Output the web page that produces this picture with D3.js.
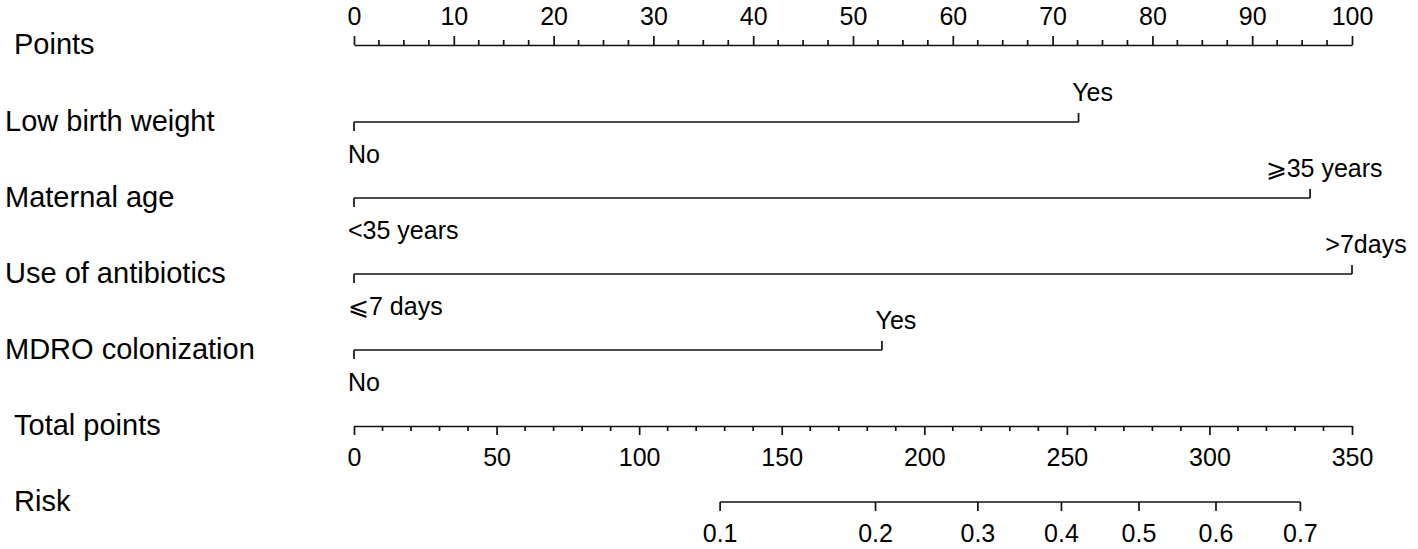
<!DOCTYPE html>
<html>
<head>
<meta charset="utf-8">
<script src="https://cdn.jsdelivr.net/npm/d3@7"></script>
<style>
  body { margin: 0; background: #fff; }
  svg text { font-family: "Liberation Sans", Arial, sans-serif; fill: #000; }
  .axis path, .axis line, .row line { stroke: #111; stroke-width: 1.7; }
  .axis text { font-size: 25px; }
  .name { font-size: 29px; }
  .level { font-size: 25px; }
</style>
</head>
<body>
<svg width="1418" height="549"></svg>
<script>
// nomogram data
const pointTicks = [0, 10, 20, 30, 40, 50, 60, 70, 80, 90, 100];
const totalTicks = [0, 50, 100, 150, 200, 250, 300, 350];
const variables = ["Low birth weight", "Maternal age", "Use of antibiotics", "MDRO colonization"];
const lowLevels = ["No", "<35 years", "\u2A7D7 days", "No"];
const highLevels = ["Yes", "\u2A7E35 years", ">7days", "Yes"];
const highPoints = [72.6, 95.8, 100, 52.9];
const riskTicks = [0.1, 0.2, 0.3, 0.4, 0.5, 0.6, 0.7];
const riskTotal = [128.4, 182.9, 218.8, 248.1, 275.3, 302.3, 331.9];

const svg = d3.select("svg");

const x = d3.scaleLinear().domain([0, 100]).range([354, 1352]);
const xTotal = d3.scaleLinear().domain([0, 350]).range([354, 1352]);

const rowY = d3.scalePoint().domain(variables).range([122, 350]);
const pointsY = 45, totalY = 426, riskY = 502;

// Points axis
svg.append("g")
    .attr("class", "axis")
    .attr("transform", "translate(0," + pointsY + ")")
    .call(d3.axisTop(x).tickValues(pointTicks).tickSize(9).tickSizeOuter(0).tickPadding(11));

svg.append("g")
    .attr("class", "axis")
    .selectAll("line")
    .data(d3.range(0, 100, 2.5).filter(function(d) { return d % 10 !== 0; }))
    .enter().append("line")
      .attr("x1", function(d) { return x(d); })
      .attr("x2", function(d) { return x(d); })
      .attr("y1", pointsY)
      .attr("y2", pointsY - 5);

// Left hand labels
const names = [{t: "Points", y: pointsY, dx: 14}]
  .concat(variables.map(function(v) { return {t: v, y: rowY(v), dx: 5}; }))
  .concat([{t: "Total points", y: totalY, dx: 14}, {t: "Risk", y: riskY, dx: 14}]);

svg.selectAll(".name")
  .data(names)
  .enter().append("text")
    .attr("class", "name")
    .attr("x", function(d) { return d.dx; })
    .attr("y", function(d) { return d.y + 9; })
    .text(function(d) { return d.t; });

// One line per predictor
const row = svg.selectAll(".row")
  .data(variables)
  .enter().append("g")
    .attr("class", "row")
    .attr("transform", function(d) { return "translate(0," + rowY(d) + ")"; });

row.append("line")
    .attr("x1", x(0))
    .attr("x2", function(d, i) { return x(highPoints[i]); });

row.append("line")
    .attr("x1", x(0)).attr("x2", x(0))
    .attr("y1", 0).attr("y2", 9);

row.append("line")
    .attr("x1", function(d, i) { return x(highPoints[i]); })
    .attr("x2", function(d, i) { return x(highPoints[i]); })
    .attr("y1", 0).attr("y2", -9);

row.append("text")
    .attr("class", "level")
    .attr("x", x(0) - 6)
    .attr("y", 41)
    .text(function(d, i) { return lowLevels[i]; });

row.append("text")
    .attr("class", "level")
    .attr("x", function(d, i) { return x(highPoints[i]) + 14; })
    .attr("y", -21)
    .style("text-anchor", "middle")
    .text(function(d, i) { return highLevels[i]; });

// Total points axis
svg.append("g")
    .attr("class", "axis")
    .attr("transform", "translate(0," + totalY + ")")
    .call(d3.axisBottom(xTotal).tickValues(totalTicks).tickSize(9).tickSizeOuter(0).tickPadding(13));

svg.append("g")
    .attr("class", "axis")
    .selectAll("line")
    .data(d3.range(0, 350, 10).filter(function(d) { return d % 50 !== 0; }))
    .enter().append("line")
      .attr("x1", function(d) { return xTotal(d); })
      .attr("x2", function(d) { return xTotal(d); })
      .attr("y1", totalY)
      .attr("y2", totalY + 5);

// Risk axis, placed on the total points scale
const risk = svg.append("g")
    .attr("class", "axis")
    .attr("transform", "translate(0," + riskY + ")");

risk.append("path")
    .attr("fill", "none")
    .attr("d", "M" + xTotal(riskTotal[0]) + ",0H" + xTotal(riskTotal[riskTotal.length - 1]));

const rt = risk.selectAll(".tick")
  .data(riskTicks)
  .enter().append("g")
    .attr("class", "tick")
    .attr("transform", function(d, i) { return "translate(" + xTotal(riskTotal[i]) + ",0)"; });

rt.append("line").attr("y2", 9);
rt.append("text")
    .attr("y", 22)
    .attr("dy", "0.71em")
    .style("text-anchor", "middle")
    .text(function(d) { return d; });
</script>
</body>
</html>
